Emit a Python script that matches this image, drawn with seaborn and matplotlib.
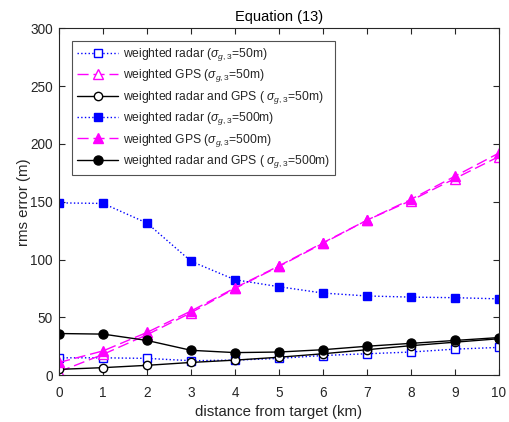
import matplotlib
matplotlib.use("Agg")
import matplotlib.pyplot as plt
import numpy as np
import pandas as pd
import seaborn as sns

# distance from target (km)
distance = [0, 1, 2, 3, 4, 5, 6, 7, 8, 9, 10]

# rms error (m)
radar_50 = [15, 15, 14.5, 12.5, 13, 14.5, 17, 18.5, 20, 22.5, 24]
gps_50 = [3, 18, 35, 54, 75, 94, 114, 134, 151, 170, 189]
both_50 = [5, 6.5, 8.5, 11, 13, 15.5, 18.5, 22, 25.5, 28.5, 31.5]
radar_500 = [149, 148.5, 131.5, 98.5, 82.5, 76.5, 71, 68.5, 67.5, 67, 66]
gps_500 = [11, 21, 37, 55.5, 75.5, 94.5, 114.5, 134, 152, 172, 192]
both_500 = [36, 35.5, 30, 21.5, 19.5, 20, 22, 25, 27.5, 30, 32.5]

labels = [
    r"weighted radar ($\sigma_{g,3}$=50m)",
    r"weighted GPS ($\sigma_{g,3}$=50m)",
    r"weighted radar and GPS ( $\sigma_{g,3}$=50m)",
    r"weighted radar ($\sigma_{g,3}$=500m)",
    r"weighted GPS ($\sigma_{g,3}$=500m)",
    r"weighted radar and GPS ( $\sigma_{g,3}$=500m)",
]
series = [radar_50, gps_50, both_50, radar_500, gps_500, both_500]

sns.set_style("white")
plt.rcParams["font.family"] = ["Liberation Sans", "DejaVu Sans"]
plt.rcParams["mathtext.fontset"] = "custom"
plt.rcParams["mathtext.rm"] = "Liberation Sans"
plt.rcParams["mathtext.it"] = "Liberation Sans:italic"

df = pd.DataFrame({"distance": distance})
for lab, vals in zip(labels, series):
    df[lab] = vals

styles = [
    dict(color="#0000ff", linestyle=":", marker="s", mfc="white", mec="#0000ff", ms=5.5, mew=1.0),
    dict(color="#ff00ff", linestyle=(0, (8, 3.5)), marker="^", mfc="white", mec="#ff00ff", ms=7, mew=1.0),
    dict(color="black", linestyle="-", marker="o", mfc="white", mec="black", ms=6, mew=1.0),
    dict(color="#0000ff", linestyle=":", marker="s", mfc="#0000ff", mec="#0000ff", ms=5.5, mew=1.0),
    dict(color="#ff00ff", linestyle=(0, (8, 3.5)), marker="^", mfc="#ff00ff", mec="#ff00ff", ms=7, mew=1.0),
    dict(color="black", linestyle="-", marker="o", mfc="black", mec="black", ms=6.5, mew=1.0),
]

fig = plt.figure(figsize=(5.10, 4.22), dpi=100)
ax = fig.add_axes([0.116, 0.111, 0.862, 0.822])

for lab, st in zip(labels, styles):
    sns.lineplot(data=df, x="distance", y=lab, ax=ax, label=lab, lw=1.0, **st)

ax.set_xlim(0, 10)
ax.set_ylim(0, 300)
ax.set_xticks(range(0, 11))
ax.set_yticks(range(0, 301, 50))

dark = "#262626"
for sp in ax.spines.values():
    sp.set_visible(True)
    sp.set_color(dark)
    sp.set_linewidth(0.8)
ax.tick_params(direction="in", length=4, width=0.8, colors=dark, labelsize=9.8,
               top=True, right=True, bottom=True, left=True)
ax.tick_params(axis="x", pad=7.5)
ax.tick_params(axis="y", pad=4.5)

ax.set_xlabel("distance from target (km)", fontsize=10.8, color=dark, labelpad=4)
ax.set_ylabel("rms error (m)", fontsize=10.8, color=dark, labelpad=-0.5)
ax.set_title("Equation (13)", fontsize=10.5, color="black", pad=5.5)

leg = ax.legend(loc="upper left", bbox_to_anchor=(0.03, 0.963), borderaxespad=0,
                fontsize=8.7, handlelength=3.4, labelspacing=0.37, frameon=True,
                fancybox=False, edgecolor=dark, borderpad=0.4, handletextpad=0.4)
leg.get_frame().set_linewidth(0.8)

fig.savefig("out.png", dpi=100)
